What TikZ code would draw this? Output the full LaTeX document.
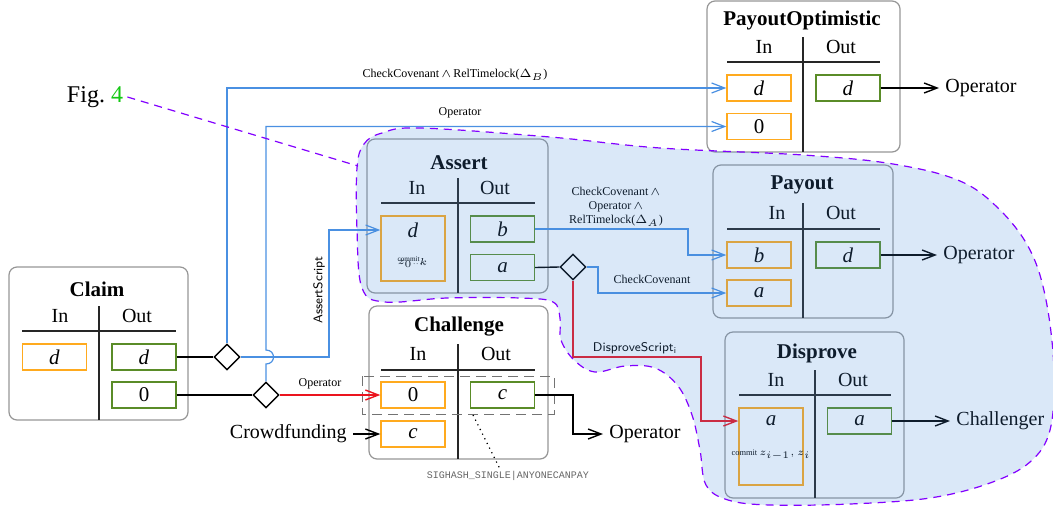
\documentclass[tikz,border=0pt]{standalone}
\usepackage{fontspec}
\setmainfont{Liberation Serif}
\newfontfamily\courfont{Liberation Mono}
\usetikzlibrary{arrows.meta,shapes.geometric}
\definecolor{cellorange}{RGB}{255,170,30}
\definecolor{cellgreen}{RGB}{90,140,40}
\definecolor{frameg}{RGB}{150,150,150}
\definecolor{linkblue}{RGB}{74,144,226}
\definecolor{blobfill}{RGB}{70,140,220}
\definecolor{blobline}{RGB}{130,0,255}
\definecolor{figgreen}{RGB}{20,200,20}
\definecolor{linkred}{RGB}{235,20,30}
\begin{document}
\begin{tikzpicture}[x=0.5pt,y=-0.5pt,
  frame/.style={draw=frameg, line width=0.6pt, rounded corners=4pt},
  ttl/.style={font=\fontsize{10.5}{12}\selectfont\bfseries, inner sep=0pt},
  hd/.style={font=\fontsize{10}{12}\selectfont, inner sep=0pt},
  rule/.style={line width=0.8pt, draw=black!85},
  incell/.style={draw=cellorange, line width=0.7pt, minimum width=32pt, minimum height=13pt, inner sep=0pt, font=\fontsize{10.5}{12}\selectfont},
  outcell/.style={draw=cellgreen, line width=0.7pt, minimum width=32pt, minimum height=13pt, inner sep=0pt, font=\fontsize{10.5}{12}\selectfont},
  gate/.style={diamond, draw, fill=white, line width=0.7pt, minimum width=13pt, minimum height=13pt, inner sep=0pt},
  conn/.style={line width=0.7pt, -{Straight Barb[length=6.5pt,width=5pt]}},
  plainline/.style={line width=0.7pt},
  bconn/.style={conn, draw=linkblue, line width=0.6pt},
  rconn/.style={conn, draw=linkred},
  lab/.style={font=\fontsize{6}{7}\selectfont, inner sep=1pt},
  slab/.style={font=\sffamily\fontsize{6.3}{7}\selectfont, inner sep=1pt},
  big/.style={font=\fontsize{10}{12}\selectfont, inner sep=3pt},
  blobstyle/.style={draw=blobline, dash pattern=on 4pt off 3pt, line width=0.6pt, fill=blobfill, fill opacity=0.2},
]
\useasboundingbox (0,0) rectangle (1053,509);

% ---------- Claim ----------
\draw[frame] (9,267) rectangle (188,420);
\node[ttl] (clt) at (97,289) {Claim};
\node[hd] (cli) at (60,316) {In};
\node[hd] (clo) at (137,316) {Out};
\draw[rule] (22,331) -- (176,331);
\draw[rule] (99,306) -- (99,420);
\node[incell] (cid) at (54.5,357) {\textit{d}};
\node[outcell] (cod) at (144,357) {\textit{d}};
\node[outcell] (co0) at (144,395) {0};

% ---------- Assert ----------
\draw[frame] (367,139) rectangle (548,293);
\node[ttl] (ast) at (459,163) {Assert};
\node[hd] (asi) at (417,188) {In};
\node[hd] (aso) at (495,188) {Out};
\draw[rule] (381,203) -- (535,203);
\draw[rule] (458,178) -- (458,293);
\node[incell, minimum height=32.5pt] (asd) at (413,248.5) {};
\node[font=\fontsize{10.5}{12}\selectfont, inner sep=0pt] (asdl) at (413,230) {\textit{d}};
\node[font=\fontsize{3.6}{4}\selectfont, inner sep=0pt] (asc) at (413,262)
  {\makebox[0pt][l]{\raisebox{-1.3pt}{\makebox[14pt][l]{$z_0$\dotfill}}}commit$_k$};
\node[outcell] (asb) at (502.5,229) {\textit{b}};
\node[outcell] (asa) at (502.5,267.5) {\textit{a}};

% ---------- Challenge ----------
\draw[frame] (369,306) rectangle (548,459);
\node[ttl] (cht) at (459,327) {Challenge};
\node[hd] (chi) at (418,354) {In};
\node[hd] (cho) at (496,354) {Out};
\draw[rule] (381,370) -- (535,370);
\draw[rule] (458,344) -- (458,459);
\node[incell] (ch0) at (413,395) {0};
\node[outcell] (chc) at (502.5,395) {\textit{c}};
\node[incell] (chic) at (413,434) {\textit{c}};
\draw[draw=black!55, line width=0.5pt, dash pattern=on 5pt off 3pt] (362,376) rectangle (554,414);
\coordinate (sigstart) at (473,415);
\node[font=\courfont\fontsize{5}{6}\selectfont, text=black!60, inner sep=1pt] (sig) at (508,476) {SIGHASH\_SINGLE|ANYONECANPAY};
\draw[dotted, line width=0.6pt] (sigstart) -- ([xshift=-4pt]sig.north);

% ---------- Payout ----------
\draw[frame] (713,165) rectangle (893,318);
\node[ttl] (pyt) at (802,185) {Payout};
\node[hd] (pyi) at (777,213) {In};
\node[hd] (pyo) at (841,213) {Out};
\draw[rule] (727,229) -- (880,229);
\draw[rule] (803,203) -- (803,318);
\node[incell] (pb) at (759,255) {\textit{b}};
\node[incell] (pa) at (759,293) {\textit{a}};
\node[outcell] (pd) at (848,255) {\textit{d}};

% ---------- PayoutOptimistic ----------
\draw[frame] (707,1) rectangle (900,152);
\node[ttl] (pot) at (802,20) {PayoutOptimistic};
\node[hd] (poi) at (764,47) {In};
\node[hd] (poo2) at (841,47) {Out};
\draw[rule] (727,62) -- (880,62);
\draw[rule] (803,37) -- (803,152);
\node[incell] (pod) at (759,88) {\textit{d}};
\node[incell] (po0) at (759,126.5) {0};
\node[outcell] (poo) at (848,88) {\textit{d}};

% ---------- Disprove ----------
\draw[frame] (725,332) rectangle (904,498);
\node[ttl] (dit) at (817,353) {Disprove};
\node[hd] (dii) at (776,380) {In};
\node[hd] (dio) at (853,380) {Out};
\draw[rule] (739,395) -- (891,395);
\draw[rule] (815,370) -- (815,498);
\node[incell, minimum height=38.5pt] (dia) at (771,446.5) {};
\node[font=\fontsize{10.5}{12}\selectfont, inner sep=0pt] (dial) at (771,421) {\textit{a}};
\node[font=\fontsize{4.2}{5}\selectfont, inner sep=0pt] (dic) at (771,455) {commit $z_{i-1},z_i$};
\node[outcell] (dao) at (859.5,421) {\textit{a}};

% ---------- outside texts ----------
\node[big, anchor=west] (chop) at (603,434) {Operator};
\node[big, anchor=west] (pop) at (937,255) {Operator};
\node[big, anchor=west] (poop) at (939,88) {Operator};
\node[big, anchor=west] (chal) at (950,421) {Challenger};
\node[big, anchor=east] (crowd) at (353,434) {Crowdfunding};
\node[font=\fontsize{12}{14}\selectfont, inner sep=2pt] (fig) at (95,97) {Fig.~\textcolor{figgreen}{4}};

% ---------- gates ----------
\node[gate] (d1) at (227,357) {};
\node[gate] (d2) at (266,395) {};
\node[gate] (d3) at (573,267) {};

% ---------- connectors ----------
\draw[plainline] (cod.east) -- (d1.west);
\draw[plainline] (co0.east) -- (d2.west);
\draw[bconn] (d1.north) |- (pod.west);
\draw[bconn] (d1.east) -- (329,357) |- (asd.west |- asdl);
\draw[bconn] (d2.north) -- (266,364) .. controls (276,364) and (276,350) .. (266,350) |- (po0.west);
\draw[rconn] (d2.east) -- (ch0.west);
\draw[bconn] (asb.east) -| (688,240) |- (pb.west);
\draw[plainline] (asa.east) -- (d3.west);
\draw[bconn] (d3.east) -| (598,280) |- (pa.west);
\draw[rconn] (d3.south) |- (701,357) |- (dia.west |- dial);
\draw[conn] (chc.east) -| (573,410) |- (chop.west);
\draw[conn] (pd.east) -- (pop.west);
\draw[conn] (poo.east) -- (poop.west);
\draw[conn] (dao.east) -- (chal.west);
\draw[conn] (crowd.east) -- (chic.west);

% ---------- labels ----------
\node[lab] (l1) at (455,75) {CheckCovenant\,$\wedge$\,RelTimelock($\Delta_B$)};
\node[lab] (l2) at (460,113) {Operator};
\node[slab, rotate=90] (l3) at (319,290) {AssertScript};
\node[lab] (l4) at (320,384) {Operator};
\node[lab, align=center, font=\fontsize{6}{7}\selectfont] (l5) at (616,207) {CheckCovenant\,$\wedge$\\Operator\,$\wedge$\\RelTimelock($\Delta_A$)};
\node[lab] (l6) at (652,279) {CheckCovenant};
\node[slab] (l7) at (635,348) {DisproveScript$_{\mathsf{i}}$};

% ---------- highlighted region ----------
\path[blobstyle] plot[smooth cycle, tension=0.6] coordinates {
  (357,168) (364,144) (382,133) (420,128) (550,137) (660,148) (803,155)
  (893,164) (960,181) (1000,210) (1030,250) (1046,300) (1054,370)
  (1050,430) (1030,462) (990,483) (930,498) (850,504) (770,505)
  (728,500) (706,485) (700,450) (692,415) (678,386) (655,368)
  (625,366) (595,372) (574,360) (561,340) (560,318) (553,302)
  (520,298) (447,298) (385,302) (362,288) (357,230)};
\coordinate (blobcorner) at (358,166);
\draw[draw=blobline, dash pattern=on 4pt off 3pt, line width=0.6pt] (fig.east) -- (blobcorner);
\end{tikzpicture}
\end{document}
